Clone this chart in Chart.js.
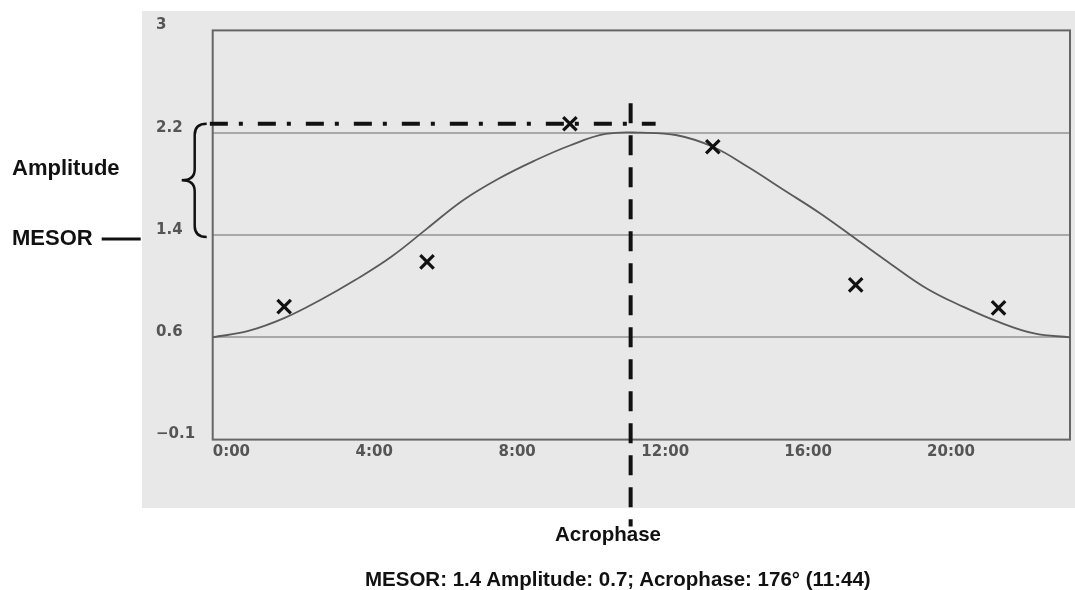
<!DOCTYPE html>
<html>
<head>
<meta charset="utf-8">
<script src="https://cdn.jsdelivr.net/npm/chart.js@4.4.1/dist/chart.umd.min.js"></script>
<style>
  html, body { margin: 0; padding: 0; background: #fff; }
  #wrap { position: relative; width: 1075px; height: 590px; overflow: hidden; }
  #panel { position: absolute; left: 142px; top: 11px; width: 933px; height: 497px; background: #e8e8e8; }
  canvas { position: absolute; left: 0; top: 0; }
  .lbl { position: absolute; font-family: "Liberation Sans", Arial, sans-serif; font-weight: bold;
         color: #111; white-space: nowrap; line-height: 1; }
</style>
</head>
<body>
<div id="wrap">
  <div id="panel"></div>
  <canvas id="c" width="1075" height="590"></canvas>
  <div class="lbl" style="left:12px;top:157px;font-size:22px;">Amplitude</div>
  <div class="lbl" style="left:12px;top:227px;font-size:22px;">MESOR</div>
  <div class="lbl" style="left:555px;top:524px;font-size:20.5px;">Acrophase</div>
  <div class="lbl" style="left:365px;top:569px;font-size:20.5px;">MESOR: 1.4 Amplitude: 0.7; Acrophase: 176° (11:44)</div>
</div>
<script>
// fitted cosinor curve
const fitHours = [0, 1, 2, 3, 4, 5, 6, 7, 8, 9, 10, 11, 12, 13, 14, 15, 16, 17, 18, 19, 20, 21, 22, 23, 24];
const fitValues = [0.60, 0.65, 0.75, 0.89, 1.05, 1.23, 1.45, 1.67, 1.84, 1.98, 2.10, 2.19, 2.20,
                   2.18, 2.09, 1.93, 1.75, 1.57, 1.37, 1.17, 0.98, 0.84, 0.72, 0.63, 0.60];

// measured points (the X marks)
const obsHours = [2, 6, 10, 14, 18, 22];
const obsValues = [0.84, 1.19, 2.27, 2.09, 1.01, 0.83];

const xTickHours = [0, 4, 8, 12, 16, 20];
const xTickLabels = ['0:00', '4:00', '8:00', '12:00', '16:00', '20:00'];
const yTickValues = [-0.2, 0.6, 1.4, 2.2, 3.0];
const yTickLabels = ['\u22120.1', '0.6', '1.4', '2.2', '3'];
const yGridValues = [0.6, 1.4, 2.2];

// annotation levels
const mesor = 1.4;
const peakLevel = 2.27;
const peakLineHours = [-0.08, 12.4];
const acrophaseHour = 11.7;
const acroLineValues = [2.43, -0.88];

const frame = {
    id: 'frame',
    beforeDatasetsDraw(chart) {
        const {ctx, chartArea: a} = chart;
        ctx.save();
        ctx.strokeStyle = '#666';
        ctx.lineWidth = 2;
        ctx.strokeRect(a.left, a.top, a.right - a.left, a.bottom - a.top);
        ctx.restore();
    },
    afterDraw(chart) {
        const {ctx, chartArea: a, scales: {y}} = chart;
        const yTop = y.getPixelForValue(peakLevel);
        const yBot = y.getPixelForValue(mesor) + 2;
        const yMid = (yTop + yBot) / 2;
        const xr = a.left - 6, xm = a.left - 18, xt = a.left - 31;
        ctx.save();
        ctx.strokeStyle = '#111';
        ctx.lineWidth = 2.5;
        // curly brace for the amplitude
        ctx.beginPath();
        ctx.moveTo(xr, yTop);
        ctx.quadraticCurveTo(xm, yTop, xm, yTop + 11);
        ctx.lineTo(xm, yMid - 11);
        ctx.quadraticCurveTo(xm, yMid, xt, yMid);
        ctx.quadraticCurveTo(xm, yMid, xm, yMid + 11);
        ctx.lineTo(xm, yBot - 11);
        ctx.quadraticCurveTo(xm, yBot, xr, yBot);
        ctx.stroke();
        // MESOR pointer
        ctx.lineWidth = 3;
        ctx.beginPath();
        ctx.moveTo(a.left - 111, yBot + 2);
        ctx.lineTo(a.left - 72, yBot + 2);
        ctx.stroke();
        ctx.restore();
    }
};

new Chart(document.getElementById('c'), {
    type: 'scatter',
    data: {
        datasets: [
            {
                label: 'observed',
                data: obsHours.map((h, i) => ({x: h, y: obsValues[i]})),
                pointStyle: 'crossRot',
                pointRadius: 9.5,
                pointBorderWidth: 3.2,
                borderColor: '#111',
                backgroundColor: '#111',
                showLine: false,
            },
            {
                label: 'acrophase',
                data: acroLineValues.map(v => ({x: acrophaseHour, y: v})),
                showLine: true,
                borderColor: '#111',
                borderWidth: 4,
                borderDash: [20, 12],
                pointRadius: 0,
                clip: false,
            },
            {
                label: 'peak',
                data: peakLineHours.map(h => ({x: h, y: peakLevel})),
                showLine: true,
                borderColor: '#111',
                borderWidth: 4,
                borderDash: [18, 11, 4, 15],
                pointRadius: 0,
                clip: false,
            },
            {
                label: 'fit',
                data: fitHours.map((h, i) => ({x: h, y: fitValues[i]})),
                showLine: true,
                borderColor: '#5a5a5a',
                borderWidth: 1.8,
                tension: 0.4,
                pointRadius: 0,
            },
        ],
    },
    options: {
        responsive: false,
        animation: false,
        devicePixelRatio: 1,
        layout: {
            autoPadding: false,
            padding: {left: 156, right: 5, top: 30.4, bottom: 0},
        },
        plugins: {
            legend: {display: false},
            tooltip: {enabled: false},
        },
        scales: {
            x: {
                type: 'linear',
                min: 0,
                max: 24,
                afterBuildTicks: scale => {
                    scale.ticks = xTickHours.map(v => ({value: v}));
                },
                afterFit: scale => {
                    scale.height = 150.4;
                },
                grid: {display: false, drawTicks: false},
                border: {display: false},
                ticks: {
                    autoSkip: false,
                    maxRotation: 0,
                    align: 'start',
                    padding: 4,
                    color: '#555',
                    font: {family: 'DejaVu Sans', size: 15, weight: 'bold'},
                    callback: (v, i) => xTickLabels[i],
                },
            },
            y: {
                type: 'linear',
                min: -0.2,
                max: 3.0,
                afterBuildTicks: scale => {
                    scale.ticks = yTickValues.map(v => ({value: v}));
                },
                afterFit: scale => {
                    scale.width = 56.7;
                },
                grid: {
                    drawTicks: false,
                    lineWidth: 2,
                    color: ctx => yGridValues.includes(ctx.tick.value) ? '#a8a8a8' : 'rgba(0,0,0,0)',
                },
                border: {display: false},
                ticks: {
                    crossAlign: 'far',
                    padding: 0,
                    labelOffset: -5,
                    color: '#555',
                    font: {family: 'DejaVu Sans', size: 15, weight: 'bold'},
                    callback: (v, i) => yTickLabels[i],
                },
            },
        },
    },
    plugins: [frame],
});
</script>
</body>
</html>
